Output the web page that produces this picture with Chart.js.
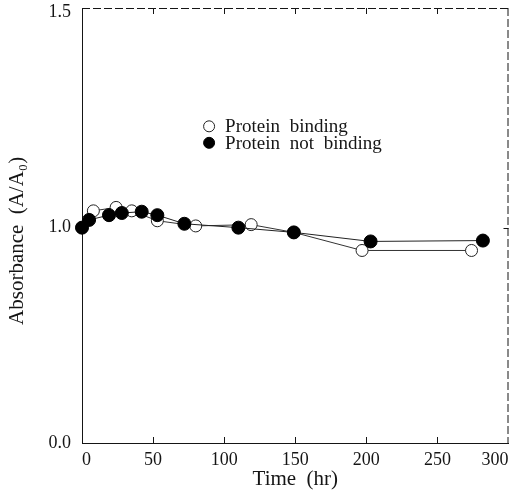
<!DOCTYPE html>
<html><head><meta charset="utf-8">
<script src="https://cdn.jsdelivr.net/npm/chart.js@4"></script>
<style>html,body{margin:0;padding:0;background:#fff}</style>
</head><body>
<canvas id="c" width="516" height="494"></canvas>
<script>
const bindingTime = [0, 8, 24, 35, 53, 80, 119, 149, 197, 274];
const bindingValue = [1.0, 1.039, 1.047, 1.039, 1.016, 1.004, 1.007, 0.989, 0.947, 0.947];
const notBindingTime = [0, 5, 19, 28, 42, 53, 72, 110, 149, 203, 282];
const notBindingValue = [1.0, 1.018, 1.029, 1.034, 1.037, 1.029, 1.009, 1.0, 0.989, 0.968, 0.970];
const xTickValues = [0, 50, 100, 150, 200, 250, 300];
const yTickValues = [0.5, 1.0, 1.5];
const yTickLabels = ['0.0', '1.0', '1.5'];
const seriesNames = ['Protein binding', 'Protein not binding'];

const FONT = "'Liberation Serif', 'Times New Roman', serif";
const INK = '#151515';

function pts(xs, ys) { return xs.map((x, i) => ({x: x, y: ys[i]})); }

const spacing = {
  id: 'spacing',
  beforeUpdate(chart) { chart.ctx.wordSpacing = '5px'; },
  beforeLayout(chart) { chart.ctx.wordSpacing = '5px'; },
  beforeDraw(chart) { chart.ctx.wordSpacing = '5px'; }
};

const frame = {
  id: 'frame',
  afterDatasetsDraw(chart) {
    const {ctx, chartArea: a, scales} = chart;
    ctx.save();
    ctx.strokeStyle = INK;
    ctx.lineWidth = 1;
    ctx.setLineDash([8, 3]);
    ctx.beginPath();
    ctx.moveTo(a.left, a.top + 0.5); ctx.lineTo(a.right, a.top + 0.5);
    ctx.moveTo(a.right - 0.5, a.top); ctx.lineTo(a.right - 0.5, a.bottom);
    ctx.stroke();
    ctx.setLineDash([]);
    ctx.beginPath();
    xTickValues.slice(1, -1).forEach(v => {
      const px = Math.round(scales.x.getPixelForValue(v)) + 0.5;
      ctx.moveTo(px, a.bottom); ctx.lineTo(px, a.bottom - 6);
      ctx.moveTo(px, a.top); ctx.lineTo(px, a.top + 6);
    });
    yTickValues.slice(1, -1).forEach(v => {
      const py = Math.round(scales.y.getPixelForValue(v)) + 0.5;
      ctx.moveTo(a.right, py); ctx.lineTo(a.right - 5, py);
    });
    ctx.stroke();
    ctx.restore();
  }
};

const legendIn = {
  id: 'legendIn',
  afterDraw(chart) {
    const {ctx, chartArea: a} = chart;
    const cx = a.left + 0.298 * (a.right - a.left);
    const cy0 = a.top + 0.272 * (a.bottom - a.top);
    const gap = 16.5;
    ctx.save();
    ctx.wordSpacing = '5px';
    ctx.font = "19px " + FONT;
    ctx.textBaseline = 'middle';
    ctx.fillStyle = INK;
    // order as in reference: binding (open) first, then not binding (filled)
    const order = [1, 0];
    order.forEach((di, k) => {
      const ds = chart.data.datasets[di];
      const y = cy0 + k * gap;
      ctx.beginPath();
      ctx.arc(cx, y, 5.5, 0, Math.PI * 2);
      ctx.fillStyle = ds.pointBackgroundColor;
      ctx.fill();
      ctx.lineWidth = 1;
      ctx.strokeStyle = ds.pointBorderColor;
      ctx.stroke();
      ctx.fillStyle = INK;
      ctx.fillText(ds.label, cx + 16, y + 1);
    });
    ctx.restore();
  }
};

new Chart(document.getElementById('c'), {
  type: 'line',
  data: {
    datasets: [
      {
        label: seriesNames[1],
        data: pts(notBindingTime, notBindingValue),
        borderColor: '#222', borderWidth: 1,
        pointRadius: 6.5, pointHoverRadius: 6.5,
        pointBackgroundColor: '#000', pointBorderColor: '#000', pointBorderWidth: 1,
        tension: 0, clip: false
      },
      {
        label: seriesNames[0],
        data: pts(bindingTime, bindingValue),
        borderColor: '#333', borderWidth: 1,
        pointRadius: 6, pointHoverRadius: 6,
        pointBackgroundColor: '#fff', pointBorderColor: '#222', pointBorderWidth: 1,
        tension: 0, clip: false
      }
    ]
  },
  options: {
    responsive: false,
    animation: false,
    events: [],
    layout: {padding: {top: 8, right: 5, bottom: 0, left: 0}},
    plugins: {legend: {display: false}, tooltip: {enabled: false}},
    scales: {
      x: {
        type: 'linear', min: 0, max: 300,
        afterBuildTicks(s) { s.ticks = xTickValues.map(v => ({value: v})); },
        afterFit(s) { s.height = 51; s.paddingLeft = 0; s.paddingRight = 0; },
        grid: {display: false, drawTicks: false},
        border: {display: true, color: INK, width: 1, dash: [8, 2]},
        ticks: {
          align: 'inner', padding: 6, color: INK, maxRotation: 0, autoSkip: false,
          font: {family: FONT, size: 18},
          callback: v => String(v)
        },
        title: {
          display: true, text: 'Time (hr)', color: INK,
          font: {family: FONT, size: 21}, padding: {top: 0, bottom: 2}
        }
      },
      y: {
        type: 'linear', min: 0.5, max: 1.51,
        afterBuildTicks(s) { s.ticks = yTickValues.map(v => ({value: v})); },
        afterFit(s) { s.width = 82; s.paddingTop = 0; s.paddingBottom = 0; },
        grid: {display: false, drawTicks: false},
        border: {display: true, color: INK, width: 1},
        ticks: {
          padding: 11, color: INK, autoSkip: false,
          font: {family: FONT, size: 18},
          callback: v => yTickLabels[yTickValues.indexOf(v)]
        },
        title: {
          display: true, text: 'Absorbance (A/A\u2080)   ', color: INK,
          font: {family: FONT, size: 21}, padding: {top: 5, bottom: 0}
        }
      }
    }
  },
  plugins: [spacing, frame, legendIn]
});
</script>
</body></html>
